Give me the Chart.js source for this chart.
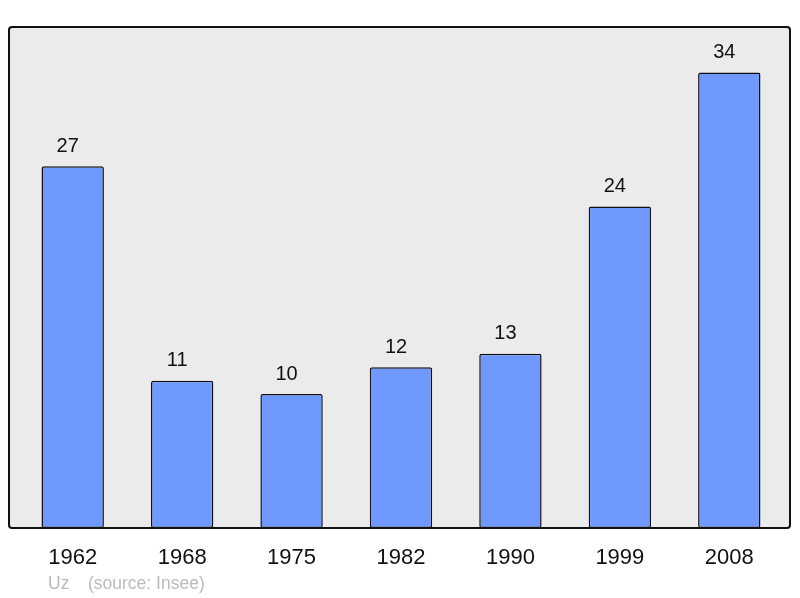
<!DOCTYPE html>
<html>
<head>
<meta charset="utf-8">
<script src="https://cdn.jsdelivr.net/npm/chart.js@4/dist/chart.umd.min.js"></script>
<style>
  body { margin: 0; background: #fff; }
  canvas { display: block; }
</style>
</head>
<body>
<canvas id="pop-chart" width="800" height="598"></canvas>
<script>
// population by census year
const years = ["1962", "1968", "1975", "1982", "1990", "1999", "2008"];
const population = [27, 11, 10, 12, 13, 24, 34];
const footerName = "Uz";
const footerSource = "(source: Insee)";

// grey box behind the bars
const boxPlugin = {
    id: "box",
    beforeDatasetsDraw(chart) {
        const a = chart.chartArea;
        const ctx = chart.ctx;
        const x0 = a.left - 9, x1 = a.right + 6;
        ctx.save();
        ctx.beginPath();
        ctx.roundRect(x0, a.top, x1 - x0, a.bottom - a.top, 3);
        ctx.fillStyle = "#ebebeb";
        ctx.fill();
        ctx.lineWidth = 2;
        ctx.strokeStyle = "#111";
        ctx.stroke();
        ctx.restore();
    },
    afterDraw(chart) {
        const ctx = chart.ctx;
        const a = chart.chartArea;
        // value above each bar
        const meta = chart.getDatasetMeta(0);
        ctx.save();
        ctx.fillStyle = "#111";
        ctx.font = "20px 'Liberation Sans', Arial, sans-serif";
        ctx.textAlign = "center";
        ctx.textBaseline = "middle";
        meta.data.forEach((bar, i) => {
            ctx.fillText(population[i], bar.x - 5, bar.y - 20);
        });
        // footer
        ctx.fillStyle = "#bbbbbb";
        ctx.font = "17.5px 'Liberation Sans', Arial, sans-serif";
        ctx.textAlign = "left";
        ctx.fillText(footerName, a.left + 30, a.bottom + 56);
        ctx.fillText(footerSource, a.left + 70, a.bottom + 56);
        ctx.restore();
    }
};

new Chart("pop-chart", {
    type: "bar",
    data: {
        labels: years,
        datasets: [{
            data: population,
            backgroundColor: "#7099ff",
            borderColor: "#111",
            borderWidth: 1.5,
            borderRadius: 2,
            borderSkipped: false,
            barPercentage: 0.57,
            categoryPercentage: 1
        }]
    },
    options: {
        responsive: false,
        animation: false,
        layout: { padding: { left: 18, right: 16, top: 27, bottom: 0 } },
        plugins: {
            legend: { display: false },
            tooltip: { enabled: false }
        },
        scales: {
            x: {
                grid: { display: false },
                border: { display: false },
                ticks: {
                    color: "#111",
                    padding: 9,
                    font: { family: "'Liberation Sans', Arial, sans-serif", size: 22 }
                },
                afterFit(scale) { scale.height = 70; }
            },
            y: {
                display: false,
                min: 0,
                max: 37.4
            }
        }
    },
    plugins: [boxPlugin]
});
</script>
</body>
</html>
